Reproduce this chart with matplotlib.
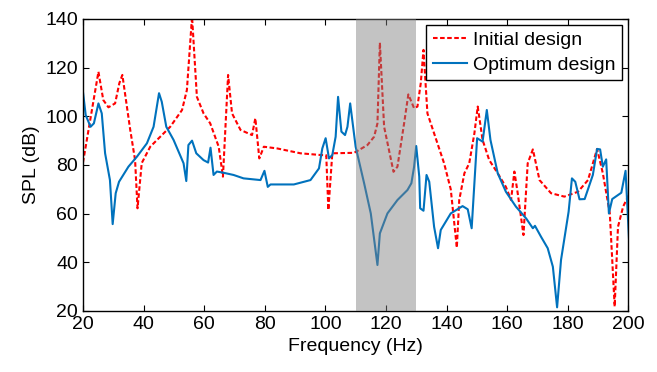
import matplotlib
matplotlib.use("Agg")
import matplotlib.pyplot as plt

# Data
freq_initial = [20, 25.1, 26.7, 28.4, 30.6, 32, 33, 35.6, 37.2, 38, 39.4, 42.2, 45.5,
                48.8, 52.7, 54.3, 56, 57.6, 59.8, 62, 64.8, 66.2, 67.9, 69.2, 72,
                75.8, 76.9, 78.2, 79.7, 84.1, 91.8, 98.4, 100.3, 101, 102.3, 109.5,
                113.9, 116.1, 117.2, 118, 119.4, 122.5, 123.8, 126, 127.4, 129.3,
                130.4, 131.5, 132.4, 133.7, 135.9, 139.2, 141.4, 143.4, 144.2, 145.9,
                147.5, 149.2, 150.3, 151.9, 154.1, 156.9, 159.6, 161.3, 162.4, 163.5,
                165.4, 166.8, 168.5, 170.7, 174.5, 178.9, 183.4, 186.7, 189.7, 191.6,
                193.9, 195.5, 196.6, 198.3, 200.7]
spl_initial = [81, 118.3, 106.7, 103.7, 105.3, 113.6, 117, 94.4, 82, 62.2, 80.8, 87.5, 91.6,
               95.7, 102.6, 110.8, 141, 108, 101.2, 97.1, 87.5, 75.2, 117, 101.2, 94.4,
               92.3, 99.2, 82.7, 87.5, 86.8, 84.8, 84.1, 84, 61.5, 84.8, 85,
               88.2, 91.6, 97.1, 130.3, 95.7, 77.2, 79.3, 97.1, 109, 103.3,
               104, 113.6, 127.3, 101.2, 93, 80.7, 70, 46, 65.6, 76.6,
               80.7, 93, 104, 90.3, 82, 76.6, 71, 65.6, 77.3, 68.4,
               51.2, 80.7, 86.4, 73.8, 68.4, 67, 69, 73.8, 86.6, 76.6,
               60.1, 21.8, 54.6, 62.9, 69]

freq_optimum = [20, 20.9, 22.5, 23.6, 25.1, 26.2, 27.3, 28.9, 29.8, 30.8, 31.9, 35, 37.8,
                41.1, 43.3, 45.1, 46, 47.5, 49.9, 53.2, 54.1, 54.8, 56, 57.4, 59.8,
                61.3, 62.1, 63.1, 64.2, 66.4, 69.7, 73, 78.6, 79.9, 81, 81.9, 89.6,
                95.1, 97.9, 99, 100.1, 101.2, 102.3, 103.4, 104.2, 105.3, 106.5, 107.3,
                108.2, 110, 112.8, 115, 117.2, 118, 120.5, 123.8, 127.1, 128.4, 129.3,
                130, 131, 131.3, 132.4, 133.4, 134.3, 135.9, 137.2, 138.1, 141.4, 145.3,
                147, 148.3, 150.1, 151.9, 153.3, 154.5, 156.9, 159.6, 162.9, 166.3,
                168.5, 169.2, 171.2, 173.4, 175.1, 176.5, 177.8, 180.3, 181.4, 182.5,
                183.9, 185.6, 188.3, 189.7, 190.7, 191.6, 192.7, 193.6, 194.7, 197.7,
                199.1, 200.7]
spl_optimum = [110, 100.5, 95.7, 97.1, 105.3, 101.2, 84.8, 73.8, 55.7, 68.4, 73.1, 79.3, 83.4,
               88.9, 95.7, 109.5, 106, 95.7, 90.3, 80.7, 73.4, 88.2, 90, 84.8, 82,
               81, 87.1, 75.9, 77.3, 76.8, 75.9, 74.5, 73.8, 77.6, 71, 72, 72,
               73.8, 78.6, 86.8, 91, 82.7, 84.1, 91.6, 108, 93.7, 92.3, 95.7,
               105.3, 87.5, 72.5, 60.1, 38.9, 51.9, 60.1, 65.6, 69.7, 72.5, 79.3,
               87.8, 75.2, 62.2, 61.2, 75.9, 73.1, 54.6, 45.8, 53.3, 60.1, 63.1,
               61.8, 54, 91, 89.6, 102.6, 90.3, 76.6, 69, 62.9, 58,
               54, 55, 50.5, 45.8, 38.2, 21.5, 41, 60.8, 74.5, 73.1,
               65.9, 66, 75.9, 86.6, 86.4, 79.3, 82.3, 60.1, 66, 68.6,
               77.6, 38.2]

band = (110, 130)

plt.rcParams['font.family'] = ['Liberation Sans', 'DejaVu Sans']
plt.rcParams['font.size'] = 14

fig = plt.figure(figsize=(6.57, 3.72), dpi=100)
ax = fig.add_axes([0.1263, 0.164, 0.8300, 0.785])

ax.plot(freq_initial, spl_initial, color='#ff0000', linestyle='--', linewidth=1.5,
        dashes=(2.2, 1.2), label='Initial design')
ax.plot(freq_optimum, spl_optimum, color='#0072bd', linewidth=1.5, label='Optimum design')
# shaded band sits on top of the curves, semi-transparent
ax.axvspan(band[0], band[1], color='#808080', alpha=0.47, linewidth=0, zorder=3)

ax.set_xlim(20, 200)
ax.set_ylim(20, 140)
ax.set_xticks(range(20, 201, 20))
ax.set_yticks(range(20, 141, 20))
ax.tick_params(direction='in', top=True, right=True, length=4, width=0.8, labelsize=14)
for s in ax.spines.values():
    s.set_linewidth(1.0)

ax.set_xlabel('Frequency (Hz)', fontsize=14)
ax.set_ylabel('SPL (dB)', fontsize=14)

leg = ax.legend(loc='upper right', fancybox=False, edgecolor='black', framealpha=1,
                handlelength=1.75, handletextpad=0.3, borderpad=0.35, labelspacing=0.35,
                borderaxespad=0.3, fontsize=14)
leg.get_frame().set_linewidth(1.0)
leg.set_zorder(5)

fig.savefig('out.png', dpi=100)
